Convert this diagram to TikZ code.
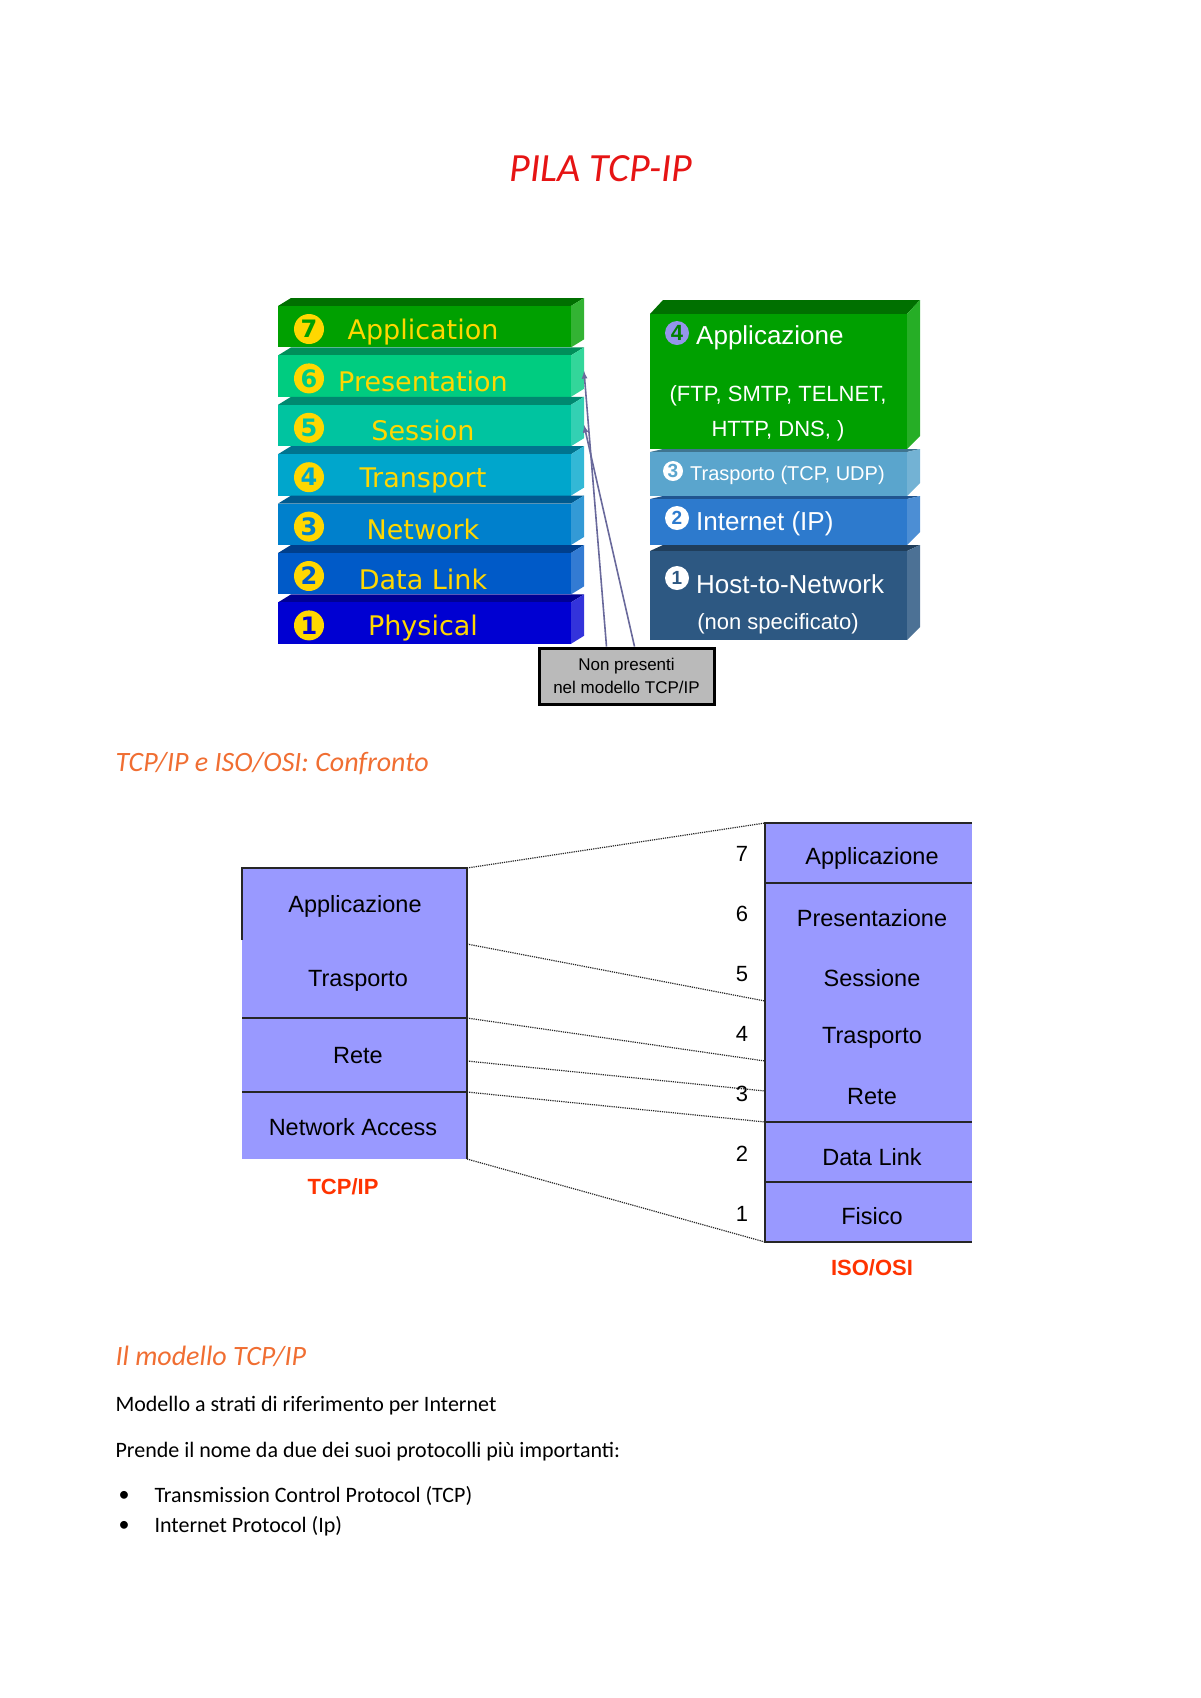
\documentclass[tikz,border=0pt]{standalone}
\usepackage{fontspec}
\setmainfont{Carlito}
\newfontfamily\arialf{Liberation Sans}
\newfontfamily\verdf{DejaVu Sans}
\usetikzlibrary{calc}
\definecolor{titlered}{RGB}{230,20,20}
\definecolor{headorange}{RGB}{240,110,50}
\definecolor{labred}{RGB}{255,51,0}
\definecolor{osiyellow}{RGB}{255,215,0}
\definecolor{cmpfill}{RGB}{153,153,255}
\definecolor{arrowgray}{RGB}{105,105,155}
\definecolor{osi7}{RGB}{0,160,0}
\definecolor{osi6}{RGB}{0,204,128}
\definecolor{osi5}{RGB}{0,196,160}
\definecolor{osi4}{RGB}{0,166,204}
\definecolor{osi3}{RGB}{0,128,204}
\definecolor{osi2}{RGB}{0,90,200}
\definecolor{osi1}{RGB}{0,0,210}
\definecolor{tcp4}{RGB}{0,160,0}
\definecolor{tcp3}{RGB}{90,165,205}
\definecolor{tcp2}{RGB}{45,122,205}
\definecolor{tcp1}{RGB}{45,88,130}
\def\fs#1{\fontsize{#1}{#1}\selectfont}
% one layer of the 3D ISO/OSI stack
\def\OsiLayer#1#2#3#4{%
 \pgfmathsetmacro\yt{298+(7-#1)*49.4}
 \fill[#2!70!black] (278,\yt+8) -- (291,\yt) -- (584,\yt) -- (571,\yt+8) -- cycle;
 \fill[#2] (278,\yt+8) rectangle (571,\yt+49.4);
 \fill[#2!80!white] (571,\yt+8) -- (584,\yt) -- (584,\yt+41.4) -- (571,\yt+49.4) -- cycle;
 \node[osi num, text=#2] (n#3) at (309,\yt+31) {#1};
 \node[osi text] (l#3) at (423,\yt+34) {#4};
}
% one block of the 3D TCP/IP stack
\def\TcpBlock#1#2#3#4{%
 \fill[#4!70!black] (650,#1+#3) -- (663,#1) -- (920,#1) -- (907,#1+#3) -- cycle;
 \fill[#4] (650,#1+#3) rectangle (907,#2);
 \fill[#4!85!white] (907,#1+#3) -- (920,#1) -- (920,#2-13) -- (907,#2) -- cycle;
}
\begin{document}
\begin{tikzpicture}[x=1pt,y=-1pt,
  osi num/.style={circle, fill=osiyellow, inner sep=0pt, minimum size=30pt, font=\verdf\bfseries\fs{24}},
  osi text/.style={text=osiyellow, font=\verdf\fs{27}},
  tcp num/.style={circle, fill=white, inner sep=0pt, minimum size=24pt, font=\arialf\bfseries\fs{19}},
  tcp text/.style={text=white, font=\arialf\fs{25}, inner sep=0pt},
  cmp text/.style={font=\arialf\fs{23.5}},
  cmp num/.style={font=\arialf\fs{22}},
  layer rule/.style={draw=black!85, line width=1.6pt},
  map line/.style={black!85, densely dotted, line width=1.2pt},
  head/.style={text=headorange, font=\itshape\fs{28}, anchor=west},
  body/.style={font=\fs{22}, anchor=west}]
\useasboundingbox (0,0) rectangle (1200,1698);
\node[text=titlered, font=\itshape\fs{40}] (title) at (601,169) {PILA TCP-IP};

% ISO/OSI stack
\OsiLayer{7}{osi7}{app}{Application}
\OsiLayer{6}{osi6}{pres}{Presentation}
\OsiLayer{5}{osi5}{sess}{Session}
\OsiLayer{4}{osi4}{trans}{Transport}
\OsiLayer{3}{osi3}{net}{Network}
\OsiLayer{2}{osi2}{dl}{Data Link}
\OsiLayer{1}{osi1}{phy}{Physical}

% TCP/IP stack
\TcpBlock{300}{449}{14}{tcp4}
\TcpBlock{449}{496}{3}{tcp3}
\TcpBlock{496}{545}{3}{tcp2}
\TcpBlock{545}{640}{6}{tcp1}
\node[tcp num, fill=cmpfill!85!gray, text=green!50!black, font=\arialf\bfseries\fs{22}] (t4) at (677,333) {4};
\node[tcp text, anchor=west, font=\arialf\fs{26}] (tapp) at (696,338) {Applicazione};
\node[tcp text, font=\arialf\fs{22}] (tprot1) at (778,396) {(FTP, SMTP, TELNET,};
\node[tcp text, font=\arialf\fs{22}] (tprot2) at (778,431) {HTTP, DNS, )};
\node[tcp num, minimum size=20pt, text=tcp3] (t3) at (673,471) {3};
\node[tcp text, anchor=west, font=\arialf\fs{20}] (ttra) at (690,475) {Trasporto (TCP, UDP)};
\node[tcp num, text=tcp2] (t2) at (677,518) {2};
\node[tcp text, anchor=west, font=\arialf\fs{26}] (tint) at (696,524) {Internet (IP)};
\node[tcp num, text=tcp1] (t1) at (677,578) {1};
\node[tcp text, anchor=west, font=\arialf\fs{26}] (thost) at (696,584) {Host-to-Network};
\node[tcp text, font=\arialf\fs{22}] (tns) at (778,624) {(non specificato)};

% note box
\node[draw=black, line width=3pt, fill=black!27, minimum width=175pt, minimum height=56pt,
  align=center, font=\arialf\fs{17}] (nonpres) at (626.5,676) {Non presenti\\[6pt]nel modello TCP/IP};
\coordinate (pres tip) at (584,371);
\coordinate (sess tip) at (584,425);
\draw[arrowgray, line width=1.6pt, -latex] ($(nonpres.north)+(-20,0)$) -- (pres tip);
\draw[arrowgray, line width=1.6pt, -latex] ($(nonpres.north)+(8,0)$) -- (sess tip);

\node[head] (cmphead) at (112,764) {TCP/IP e ISO/OSI: Confronto};

% comparison
\fill[cmpfill] (242,868) rectangle (467,1159);
\fill[cmpfill] (765,823) rectangle (972,1242);
\draw[layer rule] (242,940) -- (242,868) -- (467,868) -- (467,1159);
\draw[layer rule] (242,1018) -- (467,1018);
\draw[layer rule] (242,1092) -- (467,1092);
\draw[layer rule] (972,823) -- (765,823) -- (765,1242) -- (972,1242);
\foreach \y in {883,1122,1182}
  \draw[layer rule] (765,\y) -- (972,\y);
\coordinate (l0) at (467,868); \coordinate (l1) at (467,944);
\coordinate (l2) at (467,1018); \coordinate (l3) at (467,1061);
\coordinate (l4) at (467,1092); \coordinate (l5) at (467,1159);
\coordinate (r0) at (765,823); \coordinate (r1) at (765,1001);
\coordinate (r2) at (765,1061); \coordinate (r3) at (765,1091);
\coordinate (r4) at (765,1122); \coordinate (r5) at (765,1242);
\foreach \i in {0,...,5}
  \draw[map line] (l\i) -- (r\i);
\node[cmp text] (capp) at (355,906) {Applicazione};
\node[cmp text] (ctra) at (358,981) {Trasporto};
\node[cmp text] (cret) at (358,1056) {Rete};
\node[cmp text] (cna) at (353,1127) {Network Access};
\foreach \n/\t [count=\k] in {7/Applicazione,6/Presentazione,5/Sessione,4/Trasporto,3/Rete,2/Data Link,1/Fisico} {
  \node[cmp num] (num\n) at (742,794+\k*60) {\n};
  \node[cmp text] (osi\n) at (872,799+\k*59.6) {\t};
}
\node[text=labred, font=\arialf\bfseries\fs{22}] (tcplab) at (343,1187) {TCP/IP};
\node[text=labred, font=\arialf\bfseries\fs{22}] (osilab) at (872,1268) {ISO/OSI};

% text
\node[head] (modhead) at (112,1356) {Il modello TCP/IP};
\node[body] (line1) at (112,1406) {Modello a strati di riferimento per Internet};
\node[body] (line2) at (112,1452) {Prende il nome da due dei suoi protocolli più importanti:};
\node[font=\fs{22}] (b1) at (124,1496) {\textbullet};
\node[body] (item1) at (151,1496) {Transmission Control Protocol (TCP)};
\node[font=\fs{22}] (b2) at (124,1526) {\textbullet};
\node[body] (item2) at (151,1526) {Internet Protocol (Ip)};
\end{tikzpicture}
\end{document}
